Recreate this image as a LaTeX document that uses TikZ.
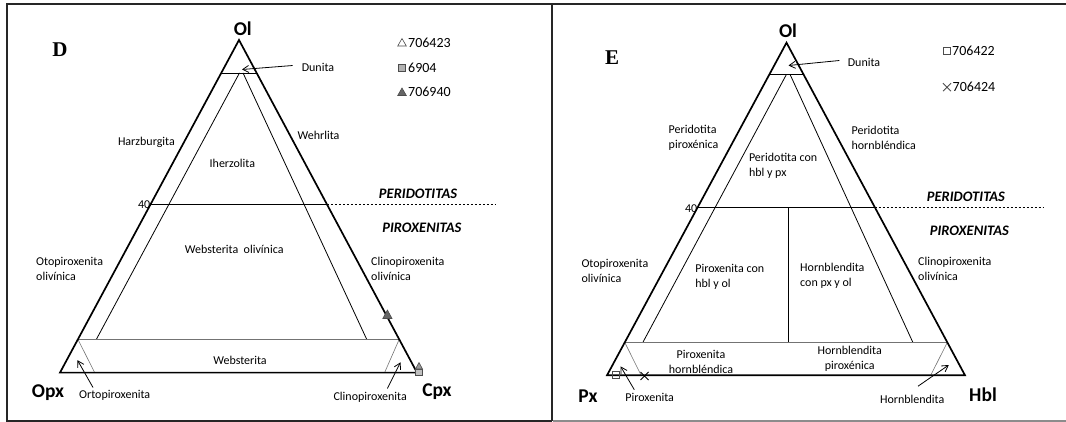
\documentclass[tikz,border=0pt]{standalone}
\usepackage{fontspec}
\setmainfont{Carlito}
\newfontfamily\serifb{Liberation Serif}
\usetikzlibrary{arrows.meta,calc}
\begin{document}
\begin{tikzpicture}[x=1pt,y=-1pt,
  lbl/.style={font=\fontsize{12}{15}\selectfont, inner sep=0pt, align=left},
  lblc/.style={lbl, align=center},
  vert/.style={font=\bfseries\fontsize{19.5}{22}\selectfont, inner sep=0pt},
  zone/.style={font=\bfseries\itshape\fontsize{14.5}{16}\selectfont, inner sep=0pt},
  panel/.style={font=\serifb\bfseries\fontsize{21}{22}\selectfont, inner sep=0pt},
  leg/.style={font=\fontsize{14}{16}\selectfont, inner sep=0pt, anchor=west},
  outer/.style={line width=1.7pt, line join=miter},
  inner/.style={line width=0.8pt},
  thin/.style={line width=0.6pt, draw=black!55},
  arr/.style={line width=0.8pt, -{Straight Barb[length=6pt,width=7pt]}},
  frame/.style={line width=2pt, draw=black!85},
  mk/.style={line width=0.6pt, draw=black!70},
]
\useasboundingbox (0,0) rectangle (1066,422);
% frames
\draw[frame] (1066,4) -- (7,4) -- (7,421) -- (552,421);
\draw[frame] (552,4) -- (552,421);
\draw[line width=1.5pt, draw=black!45] (553,421) -- (1066,421);

% ===== left triangle =====
\coordinate (LOl) at (239,40);
\coordinate (LOpx) at (60,372.6);
\coordinate (LCpx) at (417,372.6);
\coordinate (LdA) at ($(LOl)!0.099!(LOpx)$);
\coordinate (LdB) at ($(LOl)!0.099!(LCpx)$);
\coordinate (LfA) at ($(LOl)!0.493!(LOpx)$);
\coordinate (LfB) at ($(LOl)!0.493!(LCpx)$);
\coordinate (LwA) at ($(LOl)!0.9!(LOpx)$);
\coordinate (LwB) at ($(LOl)!0.9!(LCpx)$);
\coordinate (LiA) at (239.5,72.9);
\coordinate (LiB) at (243,72.9);
\coordinate (LiAb) at (96.4,339.3);
\coordinate (LiBb) at (366.7,339.3);
\coordinate (LcA) at (94.7,372.6);
\coordinate (LcB) at (384.6,372.6);
\coordinate (LfEnd) at (496,204);
\draw[inner] (LiA) -- (LiAb);
\draw[inner] (LiB) -- (LiBb);
\draw[inner] (LdA) -- (LdB);
\draw[inner] (LfA) -- (LfB);
\draw[line width=0.7pt, dash pattern=on 2.5pt off 1.5pt] (LfB) -- (LfB -| LfEnd);
\draw[thin] (LwA) -- (LwB);
\draw[thin] (LwA) -- (LcA);
\draw[thin] (LwB) -- (LcB);
\draw[outer] (LOl) -- (LOpx) -- (LCpx) -- cycle;

\node[vert] (olL) at (242.8,29) {Ol};
\node[vert] (opx) at (48,393) {Opx};
\node[vert] (cpx) at (437,392) {Cpx};
\node[panel] (D) at (60,50) {D};
\node[lbl] (dunL) at (318,67) {Dunita};
\node[lbl] (harz) at (146.4,142) {Harzburgita};
\node[lbl] (wehr) at (318.5,135) {Wehrlita};
\node[lbl] (lherz) at (232.4,163.4) {Iherzolita};
\node[lbl] (websol) at (234.2,249.5) {Websterita\ \ olivínica};
\node[lbl, anchor=west] (otoL) at (36,268.5) {Otopiroxenita\\olivínica};
\node[lbl, anchor=west] (clolL) at (371,268.5) {Clinopiroxenita\\olivínica};
\node[lbl] (webs) at (240,360.6) {Websterita};
\node[lbl] (ortoL) at (114.7,395) {Ortopiroxenita};
\node[lbl] (clinoL) at (370.2,397.4) {Clinopiroxenita};
\node[lbl, anchor=east] (fortyL) at (150.5,205) {40};
\node[zone] (perL) at (418,193.7) {PERIDOTITAS};
\node[zone] (pirL) at (421.8,228) {PIROXENITAS};

\coordinate (LdunTail) at (292.7,65.5);
\coordinate (LdunTip) at (242,69.5);
\draw[arr] (LdunTail) -- (LdunTip);
\coordinate (LortoTail) at (93,387.5);
\coordinate (LortoTip) at (77.5,360.2);
\draw[arr] (LortoTail) -- (LortoTip);
\coordinate (LclinoTail) at (387.4,388.5);
\coordinate (LclinoTip) at (400.5,362.3);
\draw[arr] (LclinoTail) -- (LclinoTip);

% left legend
\draw[mk, fill=white] (402,38.5) -- (406.3,46) -- (397.7,46) -- cycle;
\node[leg] (lg1) at (408,43) {706423};
\draw[mk, fill=black!30] (398.5,64.5) rectangle (405.5,71.5);
\node[leg] (lg2) at (408,68.2) {6904};
\draw[mk, fill=black!60] (402,88) -- (406.3,95.5) -- (397.7,95.5) -- cycle;
\node[leg] (lg3) at (408,92.3) {706940};
% left markers
\draw[mk, fill=black!60] (387.4,310) -- (392,318.5) -- (382.8,318.5) -- cycle;
\draw[mk, fill=black!25] (415.5,369) rectangle (422.5,375.5);
\draw[mk, fill=black!40] (419,362.5) -- (422.5,369) -- (415.5,369) -- cycle;

% ===== right triangle =====
\coordinate (ROl) at (786.5,42.7);
\coordinate (RPx) at (607,375.3);
\coordinate (RHbl) at (965,375.3);
\coordinate (RdA) at ($(ROl)!0.095!(RPx)$);
\coordinate (RdB) at ($(ROl)!0.095!(RHbl)$);
\coordinate (RfA) at ($(ROl)!0.494!(RPx)$);
\coordinate (RfB) at ($(ROl)!0.494!(RHbl)$);
\coordinate (RwA) at ($(ROl)!0.901!(RPx)$);
\coordinate (RwB) at ($(ROl)!0.901!(RHbl)$);
\coordinate (RiA) at (786.5,74.3);
\coordinate (RiB) at (790,74.3);
\coordinate (RiAb) at (642.8,342.5);
\coordinate (RiBb) at (912.9,342.5);
\coordinate (RcA) at (641.1,375.3);
\coordinate (RcB) at (930.7,375.3);
\coordinate (RfEnd) at (1043,206.9);
\coordinate (Rv) at (788,0);
\draw[inner] (RiA) -- (RiAb);
\draw[inner] (RiB) -- (RiBb);
\draw[inner] (RdA) -- (RdB);
\draw[inner] (RfA) -- (RfB);
\draw[line width=0.7pt, dash pattern=on 2.5pt off 1.5pt] (RfB) -- (RfB -| RfEnd);
\draw[inner] (RfA -| Rv) -- (RwA -| Rv);
\draw[thin] (RwA) -- (RwB);
\draw[thin] (RwA) -- (RcA);
\draw[thin] (RwB) -- (RcB);
\draw[outer] (ROl) -- (RPx) -- (RHbl) -- cycle;

\node[vert] (olR) at (788,31) {Ol};
\node[vert] (px) at (588,395.8) {Px};
\node[vert] (hbl) at (983,394.8) {Hbl};
\node[panel] (E) at (612,58) {E};
\node[lbl] (dunR) at (864,62) {Dunita};
\node[lbl, anchor=west] (perpx) at (668.5,138) {Peridotita\\piroxénica};
\node[lbl, anchor=west] (perhb) at (851.4,137.5) {Peridotita\\hornbléndica};
\node[lbl, anchor=west] (perhp) at (748.8,165.5) {Peridotita con\\hbl y px};
\node[lbl, anchor=west] (otoR) at (581.3,270.5) {Otopiroxenita\\olivínica};
\node[lbl, anchor=west] (pxhbl) at (695.1,276.5) {Piroxenita con\\hbl y ol};
\node[lbl, anchor=west] (hbpx) at (800,275.5) {Hornblendita\\con px y ol};
\node[lbl, anchor=west] (clolR) at (918,269) {Clinopiroxenita\\olivínica};
\node[lblc] (pxh) at (701,361.5) {Piroxenita\\hornbléndica};
\node[lblc] (hbp) at (849.7,358.5) {Hornblendita\\piroxénica};
\node[lbl] (pxn) at (649.7,397.2) {Piroxenita};
\node[lbl] (hbn) at (912.2,399.2) {Hornblendita};
\node[lbl, anchor=east] (fortyR) at (697.5,208.6) {40};
\node[zone] (perR) at (965.9,196.7) {PERIDOTITAS};
\node[zone] (pirR) at (969.3,230.9) {PIROXENITAS};

\coordinate (RdunTip) at (788.5,65.5);
\coordinate (RdunTail) at (839.4,60.5);
\draw[arr] (RdunTail) -- (RdunTip);
\coordinate (RpxTail) at (634.3,389.7);
\coordinate (RpxTip) at (620.6,366.4);
\draw[arr] (RpxTail) -- (RpxTip);
\coordinate (RhbTail) at (918,386.2);
\coordinate (RhbTip) at (948.8,365);
\draw[arr] (RhbTail) -- (RhbTip);

% right legend
\draw[mk] (943.5,47.8) rectangle (950.5,54.8);
\node[leg] (lg4) at (952,51.3) {706422};
\draw[mk, line width=0.8pt] (943,83.2) -- (951,91.2) (943,91.2) -- (951,83.2);
\node[leg] (lg5) at (952.5,87.2) {706424};
% right markers
\draw[mk] (612,370.8) rectangle (619,377.8);
\draw[line width=1pt] (640.5,372) -- (648.5,380) (640.5,380) -- (648.5,372);
\end{tikzpicture}
\end{document}
